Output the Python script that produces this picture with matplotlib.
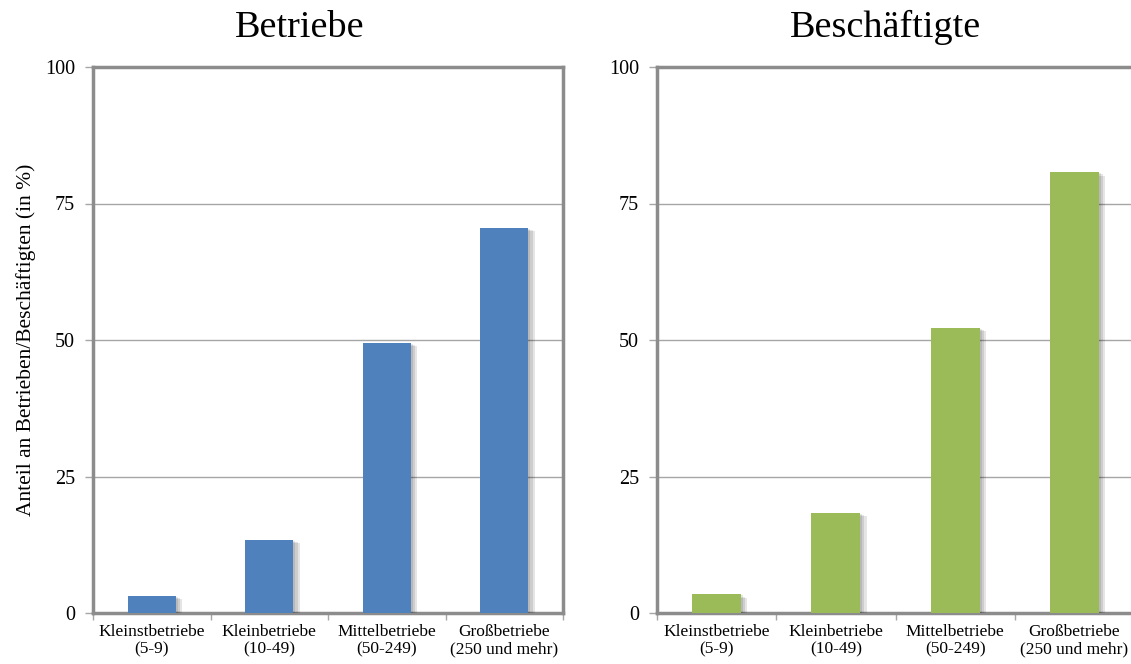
import matplotlib
matplotlib.use("Agg")
import matplotlib.pyplot as plt
import matplotlib.patheffects as pe
import numpy as np

plt.rcParams['font.family'] = ['Liberation Serif', 'DejaVu Serif']

kategorien = ['Kleinstbetriebe\n(5-9)', 'Kleinbetriebe\n(10-49)',
              'Mittelbetriebe\n(50-249)', 'Großbetriebe\n(250 und mehr)']
betriebe = [3.1, 13.4, 49.4, 70.6]
beschaeftigte = [3.4, 18.3, 52.2, 80.7]
yticks = [0, 25, 50, 75, 100]

fig = plt.figure(figsize=(11.31, 6.64), dpi=100)
W, H = 1131, 664

def panel(x0, x1, title, title_x, werte, farbe, ylabel=None):
    ax = fig.add_axes([x0 / W, 1 - 613 / H, (x1 - x0) / W, (613 - 67) / H])
    x = np.arange(len(werte))
    # weicher Schatten rechts neben den Balken
    schatten = [pe.SimplePatchShadow(offset=(d, -d * 0.5), shadow_rgbFace='black', alpha=0.1)
                for d in (1.5, 3, 4.5)]
    ax.bar(x, werte, width=0.41, color=farbe, zorder=3,
           path_effects=schatten + [pe.Normal()])
    ax.set_xlim(-0.5, len(werte) - 0.5)
    ax.set_ylim(0, 100)
    ax.set_yticks(yticks)
    ax.set_yticklabels([str(t) for t in yticks], fontsize=14.5)
    ax.set_xticks(np.arange(len(werte) + 1) - 0.5)
    ax.set_xticklabels([])
    ax.set_xticks(x, minor=True)
    ax.set_xticklabels(kategorien, minor=True, fontsize=12.5, linespacing=1.12)
    ax.tick_params(axis='x', which='minor', length=0, pad=8)
    ax.tick_params(axis='x', which='major', length=5, color='#a6a6a6', width=1)
    ax.tick_params(axis='y', length=6, color='#a6a6a6', width=1, pad=7)
    ax.yaxis.grid(True, color='#a6a6a6', linewidth=1, zorder=1)
    ax.set_axisbelow(True)
    for s in ax.spines.values():
        s.set_color('#8c8c8c')
        s.set_linewidth(2.5)
    fig.text(title_x / W, 1 - 37 / H, title, fontsize=27.5, ha='center', va='baseline')
    if ylabel:
        ax.set_ylabel(ylabel, fontsize=15.5, labelpad=6)
    return ax

panel(93, 563, 'Betriebe', 300, betriebe, '#4f81bd',
      ylabel='Anteil an Betrieben/Beschäftigten (in %)')
panel(657, 1134, 'Beschäftigte', 886, beschaeftigte, '#9bbb59')

fig.savefig('out.png', dpi=100)
